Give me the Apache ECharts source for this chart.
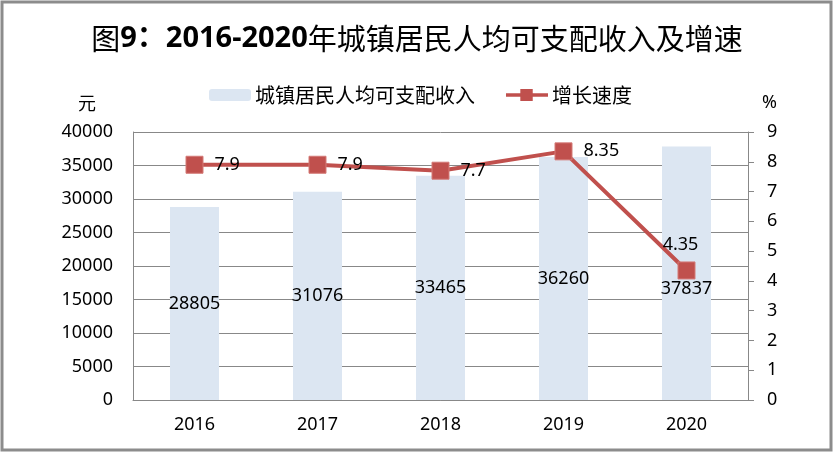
<!DOCTYPE html>
<html lang="zh">
<head>
  <meta charset="UTF-8">
  <title>城镇居民人均可支配收入及增速</title>
  <script src="https://cdn.jsdelivr.net/npm/echarts@6.0.0/dist/echarts.min.js"></script>
  <style>
    html, body { margin: 0; padding: 0; background: #fff; }
  </style>
</head>
<body>
  <div id="main" style="width: 834px;height:454px;"></div>

  <script type="text/javascript">
    // data
    const years = ['2016', '2017', '2018', '2019', '2020'];
    const income = [28805, 31076, 33465, 36260, 37837];
    const growth = [7.9, 7.9, 7.7, 8.35, 4.35];

    const font = "'Noto Sans', 'Noto Sans CJK SC', sans-serif";
    const cjk = "'Noto Sans CJK SC', sans-serif";
    const red = '#C0504D';
    const gridGray = '#888888';

    let myChart = echarts.init(document.getElementById('main'));

    // last bar label was moved down under the line point in the original
    const barData = income.map((v, i) => i === 4
      ? { value: v, label: { offset: [0, 16] } }
      : v);
    // 2020 growth label sits above its point, the rest to the right
    const lineData = growth.map((v, i) => i === 4
      ? { value: v, label: { position: 'top', distance: 8, offset: [-6, 0] } }
      : v);

    // thick line with a square in the middle, like the legend in the original
    const lineIcon = 'path://M0,4.5 H15 V0 H28 V4.5 H44 V8 H28 V12.5 H15 V8 H0 Z';

    let options = {
      animation: false,
      textStyle: { fontFamily: font },
      title: {
        left: 'center',
        top: 19,
        text: '{a|图}{b|9：2016-2020}{a|年城镇居民人均可支配收入及增速}',
        textStyle: {
          rich: {
            a: { fontFamily: cjk, fontSize: 29, fontWeight: 'normal', color: '#000' },
            b: { fontFamily: font, fontSize: 29, fontWeight: 'bold', color: '#000' }
          }
        }
      },
      legend: {
        left: 204,
        top: 80,
        itemWidth: 42,
        itemHeight: 12,
        itemGap: 31,
        textStyle: { fontFamily: cjk, fontSize: 20, color: '#000', padding: [0, 0, 0, -1] },
        data: [
          { name: '城镇居民人均可支配收入' },
          { name: '增长速度', icon: lineIcon, itemStyle: { color: red, borderWidth: 0 } }
        ]
      },
      graphic: [
        {
          type: 'rect',
          shape: { x: 2, y: 2, width: 829, height: 448 },
          style: { fill: 'none', stroke: '#8c8c8c', lineWidth: 3 }
        },
        {
          type: 'text', left: 78, top: 94,
          style: { text: '元', font: "18px 'Noto Sans CJK SC'", fill: '#000' }
        },
        {
          type: 'text', left: 762, top: 94,
          style: { text: '%', font: "18px 'Noto Sans'", fill: '#000' }
        }
      ],
      grid: { left: 133, right: 86, top: 132, bottom: 54 },
      xAxis: {
        type: 'category',
        data: years,
        axisLine: { lineStyle: { color: gridGray } },
        axisTick: { show: false },
        axisLabel: { fontSize: 18, color: '#000', margin: 16 }
      },
      yAxis: [
        {
          type: 'value',
          min: 0, max: 40000, interval: 5000,
          axisLine: { show: true, lineStyle: { color: gridGray } },
          axisTick: { show: false },
          axisLabel: { fontSize: 18, color: '#000', margin: 20, formatter: v => String(v) },
          splitLine: { lineStyle: { color: gridGray } }
        },
        {
          type: 'value',
          min: 0, max: 9, interval: 1,
          position: 'right',
          axisLine: { show: true, lineStyle: { color: gridGray } },
          axisTick: { show: true, length: 6, lineStyle: { color: gridGray } },
          axisLabel: { fontSize: 18, color: '#000', margin: 19 },
          splitLine: { show: false }
        }
      ],
      series: [
        {
          name: '城镇居民人均可支配收入',
          type: 'bar',
          barWidth: 49,
          itemStyle: { color: '#DCE6F2' },
          label: { show: true, position: 'inside', fontSize: 18, color: '#000' },
          data: barData
        },
        {
          name: '增长速度',
          type: 'line',
          yAxisIndex: 1,
          symbol: 'rect',
          symbolSize: 17,
          lineStyle: { color: red, width: 4 },
          itemStyle: { color: red, borderColor: '#d47a77', borderWidth: 1 },
          label: { show: true, position: 'right', distance: 11, fontSize: 18, color: '#000' },
          data: lineData
        }
      ]
    };

    myChart.setOption(options);
  </script>
</body>
</html>
